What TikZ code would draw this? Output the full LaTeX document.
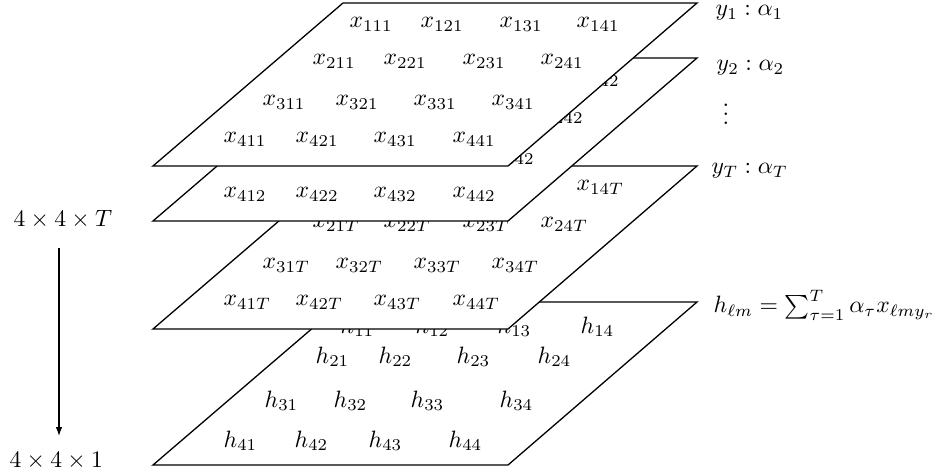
\documentclass[tikz,border=0pt]{standalone}
\usetikzlibrary{arrows.meta}
\begin{document}
\begin{tikzpicture}[x=0.423pt,y=-0.423pt,line width=0.55pt,
  lbl/.style={inner sep=0pt,anchor=base west},
  layer/.style={draw=black,fill=white,line join=miter}]
\useasboundingbox (0,0) rectangle (937,473);
\newcommand\layerbox[1]{%
  \filldraw[layer] (153,#1+163) -- (508,#1+163) -- (697,#1) -- (343,#1) -- cycle;}
% #1 suffix, #2 offset, #3 row, #4 baseline, #5-#8 left edges
\newcommand\xrow[8]{%
  \node[lbl] (x-#3-1-#1) at (#5,#4+#2) {$x_{#31#1}$};
  \node[lbl] (x-#3-2-#1) at (#6,#4+#2) {$x_{#32#1}$};
  \node[lbl] (x-#3-3-#1) at (#7,#4+#2) {$x_{#33#1}$};
  \node[lbl] (x-#3-4-#1) at (#8,#4+#2) {$x_{#34#1}$};}
% #1 suffix, #2 offset, #3 top of layer
\newcommand\xlayer[3]{%
  \layerbox{#3}
  \xrow{#1}{#2}{1}{28}{349}{420}{499}{576}
  \xrow{#1}{#2}{2}{65}{312}{383}{462}{540}
  \xrow{#1}{#2}{3}{106}{262}{335}{413}{491}
  \xrow{#1}{#2}{4}{143}{223}{295}{373}{452}}
\newcommand\hrow[5]{%
  \node[lbl] (h-#1-1) at (#3,#2) {$h_{#11}$};
  \node[lbl] (h-#1-2) at (#4,#2) {$h_{#12}$};}
% bottom layer h
\layerbox{302}
\hrow{1}{333}{340}{415}{}
\node[lbl] (h-1-3) at (497,333) {$h_{13}$};
\node[lbl] (h-1-4) at (580,333) {$h_{14}$};
\hrow{2}{363}{315}{378}{}
\node[lbl] (h-2-3) at (456,363) {$h_{23}$};
\node[lbl] (h-2-4) at (537,363) {$h_{24}$};
\hrow{3}{407}{264}{333}{}
\node[lbl] (h-3-3) at (410,407) {$h_{33}$};
\node[lbl] (h-3-4) at (499,407) {$h_{34}$};
\hrow{4}{447}{223}{294}{}
\node[lbl] (h-4-3) at (368,447) {$h_{43}$};
\node[lbl] (h-4-4) at (448,447) {$h_{44}$};
% x layers, from back to front
\xlayer{T}{163}{166}
\xlayer{2}{55}{58}
\xlayer{1}{0}{3}
% right labels
\node[lbl] (y1) at (715,16) {$y_1:\alpha_1$};
\node[lbl] (y2) at (716,71) {$y_2:\alpha_2$};
\node[inner sep=0pt,anchor=base] (vd) at (726,125) {$\vdots$};
\node[lbl] (yT) at (711,174) {$y_T:\alpha_T$};
\node[lbl] (hf) at (713,313) {$h_{\ell m}=\sum_{\tau=1}^{T}\alpha_\tau x_{\ell m y_r}$};
% left labels and arrow
\node[lbl] (dimT) at (13,227) {$4\times4\times T$};
\node[lbl] (dim1) at (9,467) {$4\times4\times1$};
\coordinate (arrS) at (59,248);
\coordinate (arrE) at (59,436);
\draw[-{Latex[length=3.8pt,width=2.8pt]}] (arrS) -- (arrE);
\end{tikzpicture}
\end{document}
